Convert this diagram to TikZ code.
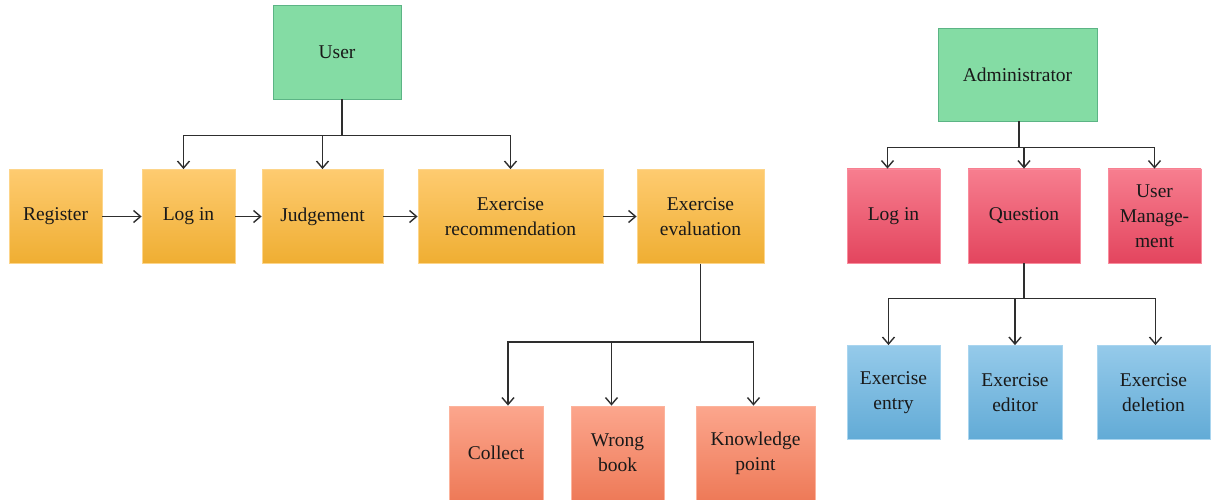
\documentclass[tikz,border=0pt]{standalone}
\usepackage{fontspec}
\setmainfont{Liberation Serif}
\usetikzlibrary{arrows.meta}

\definecolor{rolefill}{HTML}{84DCA4}
\definecolor{roleline}{HTML}{5CB485}
\definecolor{orgtop}{HTML}{FECB70}
\definecolor{orgbot}{HTML}{EFAE32}
\definecolor{orgline}{HTML}{FDD58A}
\definecolor{redtop}{HTML}{F77E8F}
\definecolor{redbot}{HTML}{E3455E}
\definecolor{redline}{HTML}{F98C9D}
\definecolor{saltop}{HTML}{FCA68D}
\definecolor{salbot}{HTML}{EE7A58}
\definecolor{salline}{HTML}{FCB39C}
\definecolor{bluetop}{HTML}{95CAEA}
\definecolor{bluebot}{HTML}{62ABD6}
\definecolor{blueline}{HTML}{A9D5EF}
\definecolor{linkcol}{HTML}{2E2E2E}

\begin{document}
\begin{tikzpicture}[x=1pt, y=-1pt,
    box/.style={rectangle, align=center, inner sep=2pt, minimum height=94pt, line width=0.8pt,
        font=\fontsize{19.5}{25}\selectfont, text=black!90},
    rolebox/.style={box, fill=rolefill, draw=roleline},
    stepbox/.style={box, top color=orgtop, bottom color=orgbot, draw=orgline},
    adminbox/.style={box, top color=redtop, bottom color=redbot, draw=redline},
    notebox/.style={box, top color=saltop, bottom color=salbot, draw=salline},
    editbox/.style={box, top color=bluetop, bottom color=bluebot, draw=blueline},
    link/.style={draw=linkcol, line width=1.4pt, -{Straight Barb[length=7pt,width=12pt]}}
]
    \useasboundingbox (0,0) rectangle (1211,500);

    % user side
    \node[rolebox, minimum width=128pt] (user) at (337,52) {User};

    \foreach \n/\x/\w/\txt in {reg/55.5/93/Register, login/188.5/93/Log in, judge/322.5/121/Judgement,
        recom/510.5/185/{Exercise\\recommendation}, evalu/700.5/127/{Exercise\\evaluation}}
        \node[stepbox, minimum width=\w pt] (\n) at (\x,216.5) {\txt};

    \foreach \n/\x/\w/\txt in {coll/496/94/Collect, wrong/617.5/93/{Wrong\\book}, know/755.5/119/{Knowledge\\point}}
        \node[notebox, minimum width=\w pt] (\n) at (\x,453) {\txt};

    % administrator side
    \node[rolebox, minimum width=159pt, minimum height=93pt] (admin) at (1017.5,74.5) {Administrator};

    \foreach \n/\x/\w/\txt in {alog/893.5/93/Log in, quest/1024/112/Question, umgmt/1154.5/93/{User\\Manage-\\ment}}
        \node[adminbox, minimum width=\w pt] (\n) at (\x,216) {\txt};

    \foreach \n/\x/\w/\txt in {entry/893.5/93/{Exercise\\entry}, editor/1015/94/{Exercise\\editor}, delet/1153.5/113/{Exercise\\deletion}}
        \node[editbox, minimum width=\w pt] (\n) at (\x,392.5) {\txt};

    % flow along the user row
    \draw[link] (reg) -- (login);
    \draw[link] (login) -- (judge);
    \draw[link] (judge) -- (recom);
    \draw[link] (recom) -- (evalu);

    % tree branches (drop points sit a little off centre, as drawn)
    \foreach \n/\s in {login/-5, judge/0, recom/0}
        \draw[link] ([xshift=5pt]user.south) -- ++(0,36) -| ([xshift=\s pt]\n.north);
    \foreach \n/\s in {coll/12, wrong/-6, know/-2}
        \draw[link] (evalu.south) -- ++(0,78) -| ([xshift=\s pt]\n.north);
    \foreach \n/\s in {alog/-6, quest/0, umgmt/0}
        \draw[link] ([xshift=1.5pt]admin.south) -- ++(0,26) -| ([xshift=\s pt]\n.north);
    \foreach \n/\s in {entry/-5, editor/0, delet/2}
        \draw[link] (quest.south) -- ++(0,35) -| ([xshift=\s pt]\n.north);
\end{tikzpicture}
\end{document}
